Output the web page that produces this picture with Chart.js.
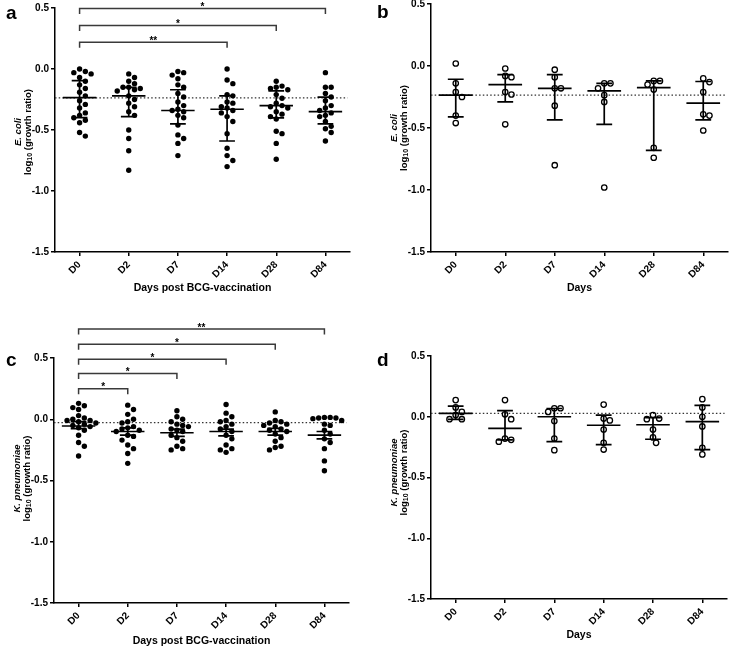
<!DOCTYPE html>
<html>
<head>
<meta charset="utf-8">
<script src="https://cdn.jsdelivr.net/npm/chart.js@4.4.0/dist/chart.umd.min.js"></script>
<style>
  body { margin: 0; background: #fff; }
  #wrap { position: relative; width: 730px; height: 648px; overflow: hidden; background: #fff; }
  #wrap canvas { position: absolute; left: -20px; top: -20px; }
  .lbl { position: absolute; font: bold 19px "Liberation Sans", Arial, sans-serif; color: #000; }
</style>
</head>
<body>
<div id="wrap">
  <canvas id="ca" width="770" height="688"></canvas>
  <canvas id="cb" width="770" height="688"></canvas>
  <canvas id="cc" width="770" height="688"></canvas>
  <canvas id="cd" width="770" height="688"></canvas>
  <div class="lbl" style="left:6px;top:2px">a</div>
  <div class="lbl" style="left:377px;top:1px">b</div>
  <div class="lbl" style="left:6px;top:349px">c</div>
  <div class="lbl" style="left:377px;top:349px">d</div>
</div>
<script>
const days = ['D0', 'D2', 'D7', 'D14', 'D28', 'D84'];
const yTicks = [-1.5, -1.0, -0.5, 0.0, 0.5];

// a - E. coli, BCG vaccinated
const ecoliBcg = [
  [-0.00, -0.03, -0.02, -0.04, -0.07, -0.10, -0.13, -0.16, -0.19, -0.22, -0.26, -0.29, -0.32, -0.36, -0.38, -0.40, -0.42, -0.44, -0.52, -0.55],
  [-0.04, -0.07, -0.10, -0.12, -0.15, -0.15, -0.16, -0.17, -0.18, -0.22, -0.25, -0.28, -0.31, -0.35, -0.38, -0.50, -0.57, -0.67, -0.83],
  [-0.02, -0.03, -0.05, -0.08, -0.13, -0.15, -0.20, -0.23, -0.27, -0.30, -0.33, -0.34, -0.35, -0.38, -0.40, -0.46, -0.54, -0.57, -0.61, -0.71],
  [0.00, -0.09, -0.12, -0.21, -0.22, -0.27, -0.28, -0.31, -0.32, -0.34, -0.36, -0.39, -0.43, -0.53, -0.65, -0.71, -0.75, -0.80],
  [-0.10, -0.14, -0.15, -0.16, -0.17, -0.21, -0.24, -0.28, -0.30, -0.31, -0.32, -0.35, -0.37, -0.39, -0.41, -0.51, -0.53, -0.61, -0.74],
  [-0.03, -0.15, -0.15, -0.20, -0.23, -0.26, -0.30, -0.32, -0.34, -0.36, -0.38, -0.39, -0.43, -0.47, -0.49, -0.52, -0.59]
];
const ecoliBcgMean = [-0.235, -0.22, -0.34, -0.33, -0.30, -0.35];
const ecoliBcgUpper = [-0.096, -0.15, -0.17, -0.22, -0.18, -0.23];
const ecoliBcgLower = [-0.398, -0.39, -0.45, -0.59, -0.40, -0.45];
const ecoliBcgRef = -0.236;
const ecoliBcgSig = [[0, 5, 0.495, '*'], [0, 4, 0.357, '*'], [0, 3, 0.22, '**']];

// b - E. coli, controls
const ecoliCtrl = [
  [0.02, -0.14, -0.21, -0.25, -0.40, -0.46],
  [-0.02, -0.08, -0.09, -0.21, -0.23, -0.47],
  [-0.03, -0.09, -0.18, -0.18, -0.32, -0.80],
  [-0.14, -0.14, -0.18, -0.235, -0.29, -0.98],
  [-0.12, -0.12, -0.15, -0.19, -0.66, -0.74],
  [-0.10, -0.13, -0.21, -0.39, -0.40, -0.52]
];
const ecoliCtrlMean = [-0.235, -0.15, -0.18, -0.20, -0.175, -0.30];
const ecoliCtrlUpper = [-0.107, -0.07, -0.07, -0.14, -0.12, -0.125];
const ecoliCtrlLower = [-0.41, -0.29, -0.435, -0.47, -0.68, -0.435];
const ecoliCtrlRef = -0.235;

// c - K. pneumoniae, BCG vaccinated
const kpnBcg = [
  [0.13, 0.11, 0.095, 0.08, 0.03, 0.01, 0.0, -0.01, -0.01, -0.02, -0.03, -0.04, -0.05, -0.06, -0.07, -0.09, -0.13, -0.19, -0.22, -0.30],
  [0.115, 0.08, 0.04, 0.0, -0.02, -0.03, -0.06, -0.07, -0.08, -0.09, -0.10, -0.13, -0.14, -0.17, -0.21, -0.24, -0.28, -0.36],
  [0.07, 0.02, 0.0, -0.02, -0.04, -0.05, -0.06, -0.08, -0.09, -0.10, -0.13, -0.15, -0.18, -0.22, -0.24, -0.25],
  [0.12, 0.05, 0.02, -0.01, -0.02, -0.04, -0.06, -0.08, -0.10, -0.13, -0.16, -0.21, -0.24, -0.25, -0.27],
  [0.06, -0.01, -0.02, -0.03, -0.04, -0.05, -0.06, -0.08, -0.09, -0.10, -0.12, -0.15, -0.18, -0.22, -0.23, -0.25],
  [0.015, 0.015, 0.01, 0.01, 0.005, -0.01, -0.04, -0.05, -0.09, -0.12, -0.16, -0.19, -0.24, -0.34, -0.42]
];
const kpnBcgMean = [-0.055, -0.10, -0.11, -0.10, -0.10, -0.13];
const kpnBcgUpper = [-0.02, -0.07, -0.08, -0.08, -0.075, -0.10];
const kpnBcgLower = [-0.076, -0.13, -0.14, -0.135, -0.13, -0.16];
const kpnBcgRef = -0.027;
const kpnBcgSig = [[0, 5, 0.736, '**'], [0, 4, 0.613, '*'], [0, 3, 0.49, '*'], [0, 2, 0.373, '*'], [0, 1, 0.25, '*']];

// d - K. pneumoniae, controls
const kpnCtrl = [
  [0.137, 0.077, 0.04, 0.014, -0.02, -0.02],
  [0.137, 0.02, -0.02, -0.18, -0.19, -0.205],
  [0.07, 0.07, 0.04, -0.035, -0.18, -0.275],
  [0.10, -0.015, -0.03, -0.105, -0.215, -0.27],
  [0.014, -0.015, -0.02, -0.105, -0.17, -0.215],
  [0.145, 0.077, 0.0, -0.08, -0.255, -0.31]
];
const kpnCtrlMean = [0.027, -0.096, 0.0, -0.07, -0.066, -0.04];
const kpnCtrlUpper = [0.088, 0.05, 0.068, 0.014, -0.008, 0.093];
const kpnCtrlLower = [-0.022, -0.19, -0.205, -0.23, -0.185, -0.27];
const kpnCtrlRef = 0.027;

const FONT = '"Liberation Sans", Arial, sans-serif';
const OFF = 20; // canvases sit 20px up/left of the page
const pxX = 49.5, pxY = 122;

// simple beeswarm so the dots spread sideways like the original
function swarm(vals, d) {
  const placed = [];
  const offs = new Array(vals.length).fill(0);
  const order = vals.map((v, i) => i).sort((p, q) => vals[q] - vals[p]);
  order.forEach(i => {
    const y = vals[i] * pxY;
    let best = 0;
    for (let k = 0; k < 60; k++) {
      const c = (k % 2 ? 1 : -1) * Math.ceil(k / 2) * d * 0.5;
      const hit = placed.some(p => (p.x - c) ** 2 + (p.y - y) ** 2 < d * d);
      if (!hit) { best = c; break; }
    }
    placed.push({ x: best, y: y });
    offs[i] = best / pxX;
  });
  return offs;
}

const panelText = {
  id: 'panelText',
  afterDraw(chart, args, o) {
    const ctx = chart.ctx;
    const a = chart.chartArea;
    const xs = chart.scales.x, ys = chart.scales.y;
    ctx.save();
    ctx.fillStyle = '#000';
    // x title
    ctx.font = 'bold 10.5px ' + FONT;
    ctx.textAlign = 'center';
    ctx.textBaseline = 'middle';
    ctx.fillText(o.xTitle, (a.left + a.right) / 2, o.xTitleY + OFF);
    // significance stars
    ctx.font = 'bold 10px ' + FONT;
    ctx.textBaseline = 'alphabetic';
    (o.sig || []).forEach(s => {
      const x = (xs.getPixelForValue(s[0]) + xs.getPixelForValue(s[1])) / 2;
      ctx.fillText(s[3], x, ys.getPixelForValue(s[2]) + 1.5);
    });
    // y title, two lines, rotated
    ctx.translate(0, (a.top + a.bottom) / 2 + o.yShift);
    ctx.rotate(-Math.PI / 2);
    ctx.textBaseline = 'middle';
    ctx.textAlign = 'center';
    ctx.font = 'italic bold 9.5px ' + FONT;
    ctx.fillText(o.species, 0, a.left - 37);
    const big = 'bold 9.5px ' + FONT, small = 'bold 7px ' + FONT;
    ctx.font = big; const w1 = ctx.measureText('log').width;
    const w3 = ctx.measureText(' (growth ratio)').width;
    ctx.font = small; const w2 = ctx.measureText('10').width;
    let x = -(w1 + w2 + w3) / 2;
    const yl = a.left - 27;
    ctx.textAlign = 'left';
    ctx.font = big; ctx.fillText('log', x, yl); x += w1;
    ctx.font = small; ctx.fillText('10', x, yl + 2.5); x += w2;
    ctx.font = big; ctx.fillText(' (growth ratio)', x, yl);
    ctx.restore();
  }
};

function makePanel(id, p) {
  const pts = [];
  p.points.forEach((vals, i) => {
    const offs = swarm(vals, p.open ? 6.2 : 5.8);
    vals.forEach((v, j) => pts.push({ x: i + offs[j], y: v }));
  });
  const bars = [];
  const cap = 0.16, half = 0.34;
  p.mean.forEach((m, i) => {
    bars.push({ x: i - half, y: m }, { x: i + half, y: m }, { x: i, y: null });
    bars.push({ x: i - cap, y: p.upper[i] }, { x: i + cap, y: p.upper[i] }, { x: i, y: null });
    bars.push({ x: i, y: p.upper[i] }, { x: i, y: p.lower[i] }, { x: i, y: null });
    bars.push({ x: i - cap, y: p.lower[i] }, { x: i + cap, y: p.lower[i] }, { x: i, y: null });
  });
  const brackets = [];
  (p.sig || []).forEach(s => {
    brackets.push({ x: s[0], y: s[2] - 0.045 }, { x: s[0], y: s[2] }, { x: s[1], y: s[2] }, { x: s[1], y: s[2] - 0.045 }, { x: s[1], y: null });
  });
  const A = p.area;
  new Chart(document.getElementById(id), {
    type: 'scatter',
    data: {
      datasets: [
        {
          data: bars, showLine: true, spanGaps: false, pointRadius: 0,
          borderColor: '#000', borderWidth: 1.7, order: 0
        },
        {
          data: pts, pointRadius: 2.7,
          backgroundColor: p.open ? 'rgba(255,255,255,0)' : '#000',
          borderColor: '#000', borderWidth: p.open ? 1.3 : 0, order: 1
        },
        {
          data: [{ x: -0.5, y: p.ref }, { x: 5.45, y: p.ref }], showLine: true, pointRadius: 0,
          borderColor: '#333', borderWidth: 1.2, borderDash: [1.5, 2.2], order: 2
        },
        {
          data: brackets, showLine: true, spanGaps: false, pointRadius: 0, clip: false,
          borderColor: '#3a3a3a', borderWidth: 1.5, order: 3
        }
      ]
    },
    options: {
      responsive: false,
      animation: false,
      layout: {
        padding: {
          left: A.l + OFF - 30,
          top: A.t + OFF,
          right: 770 - (A.r + OFF),
          bottom: 688 - (A.b + OFF) - 30
        }
      },
      plugins: {
        legend: { display: false },
        tooltip: { enabled: false },
        panelText: p.text
      },
      scales: {
        x: {
          type: 'linear', min: -0.5, max: 5.5,
          afterBuildTicks: s => { s.ticks = days.map((d, i) => ({ value: i })); },
          afterFit: s => { s.height = 30; },
          ticks: {
            autoSkip: false, minRotation: 45, maxRotation: 45, padding: 3,
            color: '#000', font: { family: FONT, size: 10, weight: 'bold' },
            callback: v => days[v]
          },
          grid: { display: true, drawOnChartArea: false, drawTicks: true, tickLength: 4, color: '#000', lineWidth: 1.5 },
          border: { display: true, color: '#000', width: 1.5 }
        },
        y: {
          min: -1.5, max: 0.5,
          afterBuildTicks: s => { s.ticks = yTicks.map(v => ({ value: v })); },
          afterFit: s => { s.width = 30; },
          ticks: {
            padding: 2, color: '#000', font: { family: FONT, size: 10, weight: 'bold' },
            callback: v => v.toFixed(1)
          },
          grid: { display: true, drawOnChartArea: false, drawTicks: true, tickLength: 4, color: '#000', lineWidth: 1.5 },
          border: { display: true, color: '#000', width: 1.5 }
        }
      }
    },
    plugins: [panelText]
  });
}

makePanel('ca', {
  points: ecoliBcg, mean: ecoliBcgMean, upper: ecoliBcgUpper, lower: ecoliBcgLower,
  ref: ecoliBcgRef, sig: ecoliBcgSig, open: false,
  area: { l: 55, t: 8, r: 350, b: 252 },
  text: { xTitle: 'Days post BCG-vaccination', xTitleY: 288, species: 'E. coli', yShift: 2, sig: ecoliBcgSig }
});
makePanel('cb', {
  points: ecoliCtrl, mean: ecoliCtrlMean, upper: ecoliCtrlUpper, lower: ecoliCtrlLower,
  ref: ecoliCtrlRef, open: true,
  area: { l: 431, t: 4, r: 728, b: 252 },
  text: { xTitle: 'Days', xTitleY: 288, species: 'E. coli', yShift: 0 }
});
makePanel('cc', {
  points: kpnBcg, mean: kpnBcgMean, upper: kpnBcgUpper, lower: kpnBcgLower,
  ref: kpnBcgRef, sig: kpnBcgSig, open: false,
  area: { l: 54, t: 358, r: 349, b: 603 },
  text: { xTitle: 'Days post BCG-vaccination', xTitleY: 641, species: 'K. pneumoniae', yShift: -2, sig: kpnBcgSig }
});
makePanel('cd', {
  points: kpnCtrl, mean: kpnCtrlMean, upper: kpnCtrlUpper, lower: kpnCtrlLower,
  ref: kpnCtrlRef, open: true,
  area: { l: 431, t: 356, r: 727, b: 599 },
  text: { xTitle: 'Days', xTitleY: 635, species: 'K. pneumoniae', yShift: -5 }
});
</script>
</body>
</html>
